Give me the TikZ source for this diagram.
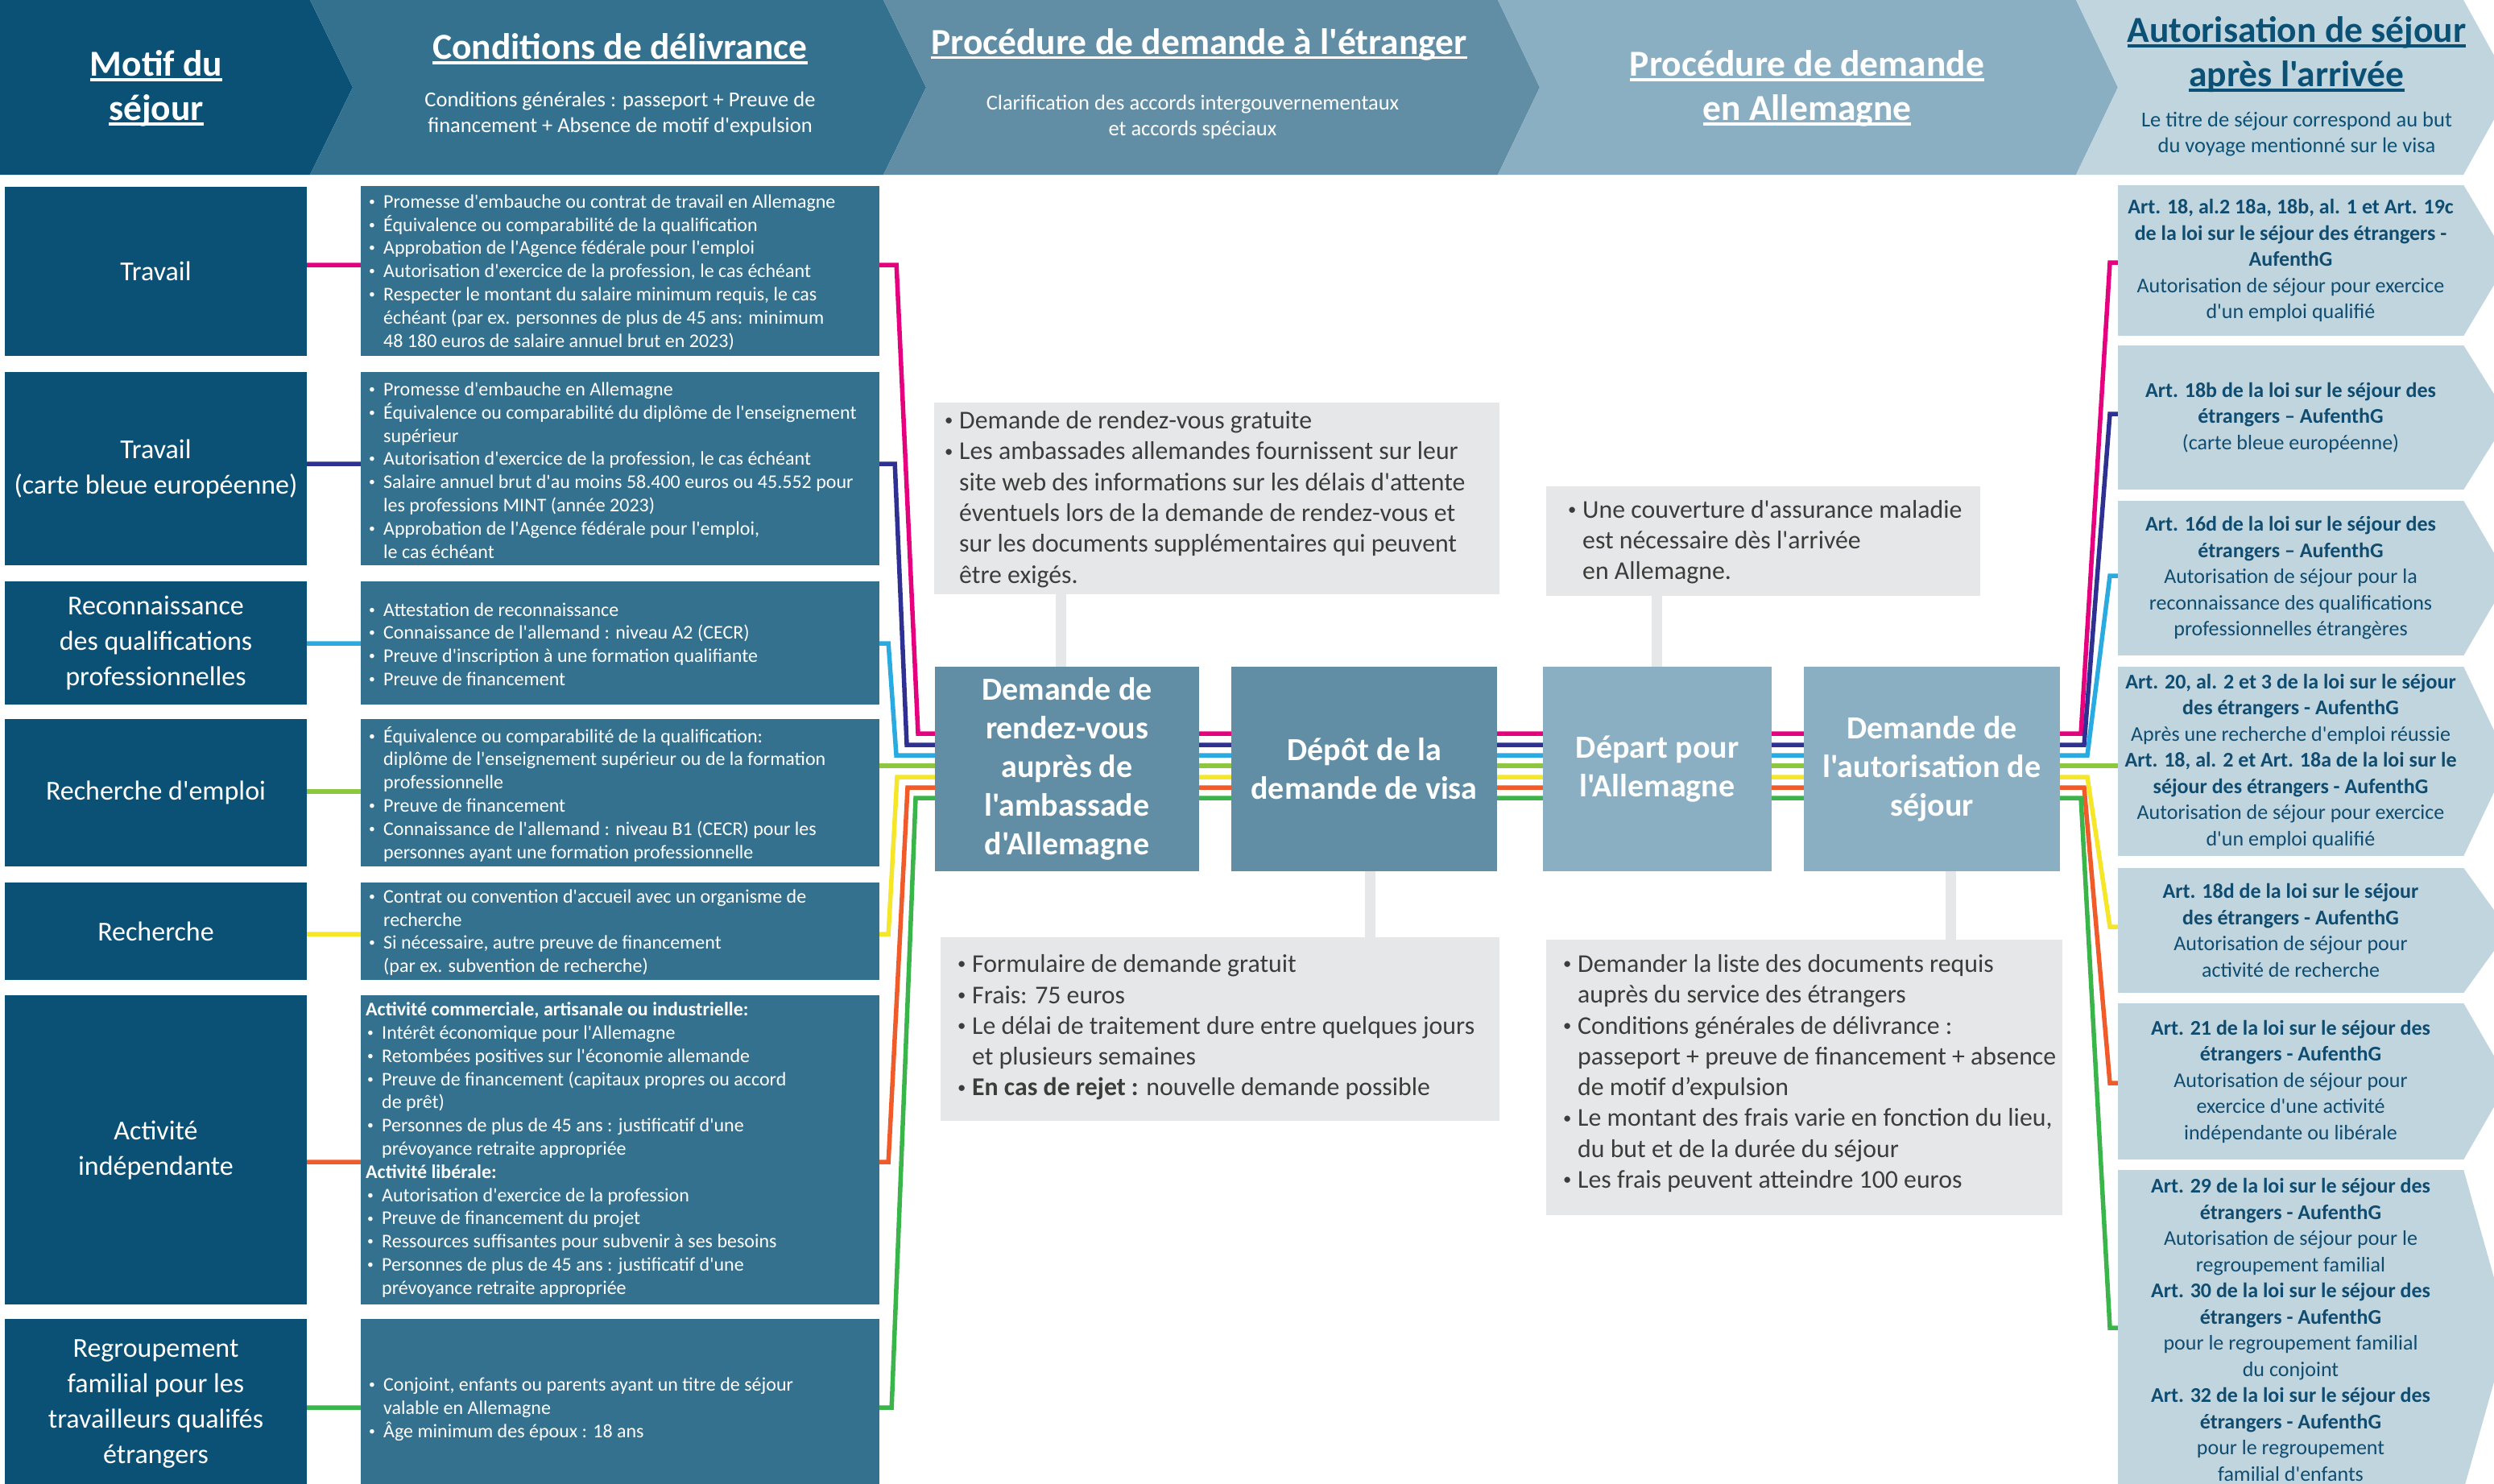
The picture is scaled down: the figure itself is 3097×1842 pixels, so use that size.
\documentclass[tikz,border=0pt]{standalone}
\usepackage{fontspec}
\setmainfont{Carlito}[Ligatures=TeXOff]
\newcommand{\myul}[1]{\leavevmode\setbox0\hbox{#1}\rlap{\rule[-6pt]{\wd0}{3.5pt}}\box0}
\definecolor{hdA}{RGB}{11,81,118}
\definecolor{hdB}{RGB}{51,113,143}
\definecolor{hdC}{RGB}{97,142,165}
\definecolor{hdD}{RGB}{139,175,194}
\definecolor{hdE}{RGB}{192,213,222}
\definecolor{greyfill}{RGB}{230,231,233}
\definecolor{greytxt}{RGB}{60,60,59}
\definecolor{rtext}{RGB}{15,76,112}
\definecolor{lnpink}{RGB}{230,0,126}
\definecolor{lnnavy}{RGB}{46,49,146}
\definecolor{lnlblue}{RGB}{41,171,226}
\definecolor{lnlime}{RGB}{141,198,63}
\definecolor{lnyellow}{RGB}{245,230,40}
\definecolor{lnorange}{RGB}{241,90,41}
\definecolor{lngreen}{RGB}{57,181,74}
\newcommand{\myb}{\makebox[20pt][l]{\hspace{2pt}\raisebox{0.12em}{\scalebox{0.65}{\textbullet}}}}
\newcommand{\myi}{\hspace*{20pt}}
\pgfdeclarelayer{paper}
\pgfdeclarelayer{bg}
\pgfsetlayers{paper,bg,main}
\tikzset{
  motifbox/.style={fill=hdA, text=white, inner sep=0pt, minimum width=375pt, align=center, font=\fontsize{34}{44}\selectfont},
  condbox/.style={fill=hdB, inner sep=0pt, minimum width=644pt},
  condtext/.style={anchor=west, text=white, align=left, inner sep=0pt, font=\fontsize{24}{28.8}\selectfont},
  rbox/.style={fill=hdE, text=rtext, inner sep=0pt, minimum width=429pt, align=center, font=\fontsize{26}{32.5}\selectfont},
  procA/.style={fill=hdC, text=white, inner sep=0pt, minimum height=254pt, align=center, font=\bfseries\fontsize{40}{48}\selectfont},
  procB/.style={procA, fill=hdD},
  greybox/.style={fill=greyfill, inner sep=0pt},
  greytext/.style={anchor=west, text=greytxt, align=left, inner sep=0pt, font=\fontsize{31.8}{38.3}\selectfont},
  greybar/.style={draw=greyfill, line width=13pt},
  route/.style={line width=5.5pt},
  hdtitle/.style={text=white, align=center, inner sep=0pt, font=\bfseries\fontsize{45.5}{55}\selectfont},
  hdsub/.style={text=white, align=center, inner sep=0pt, font=\fontsize{26.5}{32}\selectfont},
}
\begin{document}
\begin{tikzpicture}[x=1pt,y=-1pt]
\useasboundingbox (0,0) rectangle (3097,1842);
\begin{pgfonlayer}{paper}
\fill[white] (0,0) rectangle (3097,1842);
\end{pgfonlayer}
\clip (0,0) rectangle (3097,1842);

% ---------- header chevrons ----------
\fill[hdA] (0,0) -- (385,0) -- (438,108.5) -- (385,217) -- (0,217) -- cycle;
\fill[hdB] (385,0) -- (1097,0) -- (1150,108.5) -- (1097,217) -- (385,217) -- (438,108.5) -- cycle;
\fill[hdC] (1097,0) -- (1860,0) -- (1912,108.5) -- (1860,217) -- (1097,217) -- (1150,108.5) -- cycle;
\fill[hdD] (1860,0) -- (2578,0) -- (2630,108.5) -- (2578,217) -- (1860,217) -- (1912,108.5) -- cycle;
\fill[hdE] (2578,0) -- (3059,0) -- (3119,108.5) -- (3059,217) -- (2578,217) -- (2630,108.5) -- cycle;

\node[hdtitle] (t1) at (194,110) {\myul{Motif du}\\\myul{séjour}};
\node[hdtitle] (t2) at (770,61) {\myul{Conditions de délivrance}};
\node[hdsub] (s2) at (770,141) {Conditions générales : passeport + Preuve de\\financement + Absence de motif d'expulsion};
\node[hdtitle] (t3) at (1489,55) {\myul{Procédure de demande à l'étranger}};
\node[hdsub] (s3) at (1481,145) {Clarification des accords intergouvernementaux\\et accords spéciaux};
\node[hdtitle] (t4) at (2244,110) {\myul{Procédure de demande}\\\myul{en Allemagne}};
\node[hdtitle, text=hdA] (t5) at (2852,68) {\myul{Autorisation de séjour}\\\myul{après l'arrivée}};
\node[hdsub, text=hdA] (s5) at (2852,167) {Le titre de séjour correspond au but\\du voyage mentionné sur le visa};

% ---------- motif column ----------
\node[motifbox, minimum height=210pt] (m1) at (193.5,337) {Travail};
\node[motifbox, minimum height=240pt] (m2) at (193.5,582) {Travail\\(carte bleue européenne)};
\node[motifbox, minimum height=153pt] (m3) at (193.5,798.5) {Reconnaissance\\des qualifications\\professionnelles};
\node[motifbox, minimum height=183pt] (m4) at (193.5,984.5) {Recherche d'emploi};
\node[motifbox, minimum height=121pt] (m5) at (193.5,1156.5) {Recherche};
\node[motifbox, minimum height=384pt] (m6) at (193.5,1428) {Activité\\indépendante};
\node[motifbox, minimum height=210pt] (m7) at (193.5,1743) {Regroupement\\familial pour les\\travailleurs qualifés\\étrangers};

% ---------- conditions column ----------
\node[condbox, minimum height=211pt] (c1) at (770,336.5) {};
\node[condbox, minimum height=240pt] (c2) at (770,582) {};
\node[condbox, minimum height=153pt] (c3) at (770,798.5) {};
\node[condbox, minimum height=183pt] (c4) at (770,984.5) {};
\node[condbox, minimum height=121pt] (c5) at (770,1156.5) {};
\node[condbox, minimum height=384pt] (c6) at (770,1428) {};
\node[condbox, minimum height=212pt] (c7) at (770,1744) {};

\node[condtext] (tc1) at (456,338) {\myb Promesse d'embauche ou contrat de travail en Allemagne\\\myb Équivalence ou comparabilité de la qualification\\\myb Approbation de l'Agence fédérale pour l'emploi\\\myb Autorisation d'exercice de la profession, le cas échéant\\\myb Respecter le montant du salaire minimum requis, le cas\\\myi échéant (par ex. personnes de plus de 45 ans: minimum\\\myi 48 180 euros de salaire annuel brut en 2023)};
\node[condtext] (tc2) at (456,584) {\myb Promesse d'embauche en Allemagne\\\myb Équivalence ou comparabilité du diplôme de l'enseignement\\\myi supérieur\\\myb Autorisation d'exercice de la profession, le cas échéant\\\myb Salaire annuel brut d'au moins 58.400 euros ou 45.552 pour\\\myi les professions MINT (année 2023)\\\myb Approbation de l'Agence fédérale pour l'emploi,\\\myi le cas échéant};
\node[condtext] (tc3) at (456,800) {\myb Attestation de reconnaissance\\\myb Connaissance de l'allemand : niveau A2 (CECR)\\\myb Preuve d'inscription à une formation qualifiante\\\myb Preuve de financement};
\node[condtext] (tc4) at (456,986) {\myb Équivalence ou comparabilité de la qualification:\\\myi diplôme de l'enseignement supérieur ou de la formation\\\myi professionnelle\\\myb Preuve de financement\\\myb Connaissance de l'allemand : niveau B1 (CECR) pour les\\\myi personnes ayant une formation professionnelle};
\node[condtext] (tc5) at (456,1158) {\myb Contrat ou convention d'accueil avec un organisme de\\\myi recherche\\\myb Si nécessaire, autre preuve de financement\\\myi (par ex. subvention de recherche)};
\node[condtext] (tc6) at (454,1428) {\textbf{Activité commerciale, artisanale ou industrielle:}\\\myb Intérêt économique pour l'Allemagne\\\myb Retombées positives sur l'économie allemande\\\myb Preuve de financement (capitaux propres ou accord\\\myi de prêt)\\\myb Personnes de plus de 45 ans : justificatif d'une\\\myi prévoyance retraite appropriée\\\textbf{Activité libérale:}\\\myb Autorisation d'exercice de la profession\\\myb Preuve de financement du projet\\\myb Ressources suffisantes pour subvenir à ses besoins\\\myb Personnes de plus de 45 ans : justificatif d'une\\\myi prévoyance retraite appropriée};
\node[condtext] (tc7) at (456,1750) {\myb Conjoint, enfants ou parents ayant un titre de séjour\\\myi valable en Allemagne\\\myb Âge minimum des époux : 18 ans};

% ---------- process boxes ----------
\node[procA, minimum width=328pt] (dem) at (1325,955) {Demande de\\rendez-vous\\auprès de\\l'ambassade\\d'Allemagne};
\node[procA, minimum width=330pt] (dep) at (1694,955) {Dépôt de la\\demande de visa};
\node[procB, minimum width=284pt] (dpt) at (2058,955) {Départ pour\\l'Allemagne};
\node[procB, minimum width=318pt] (aut) at (2399,955) {Demande de\\l'autorisation de\\séjour};

% ---------- grey info boxes ----------
\node[greybox, minimum width=702pt, minimum height=238pt] (gA) at (1511,619) {};
\node[greybox, minimum width=539pt, minimum height=136pt] (gB) at (2189.5,672) {};
\node[greybox, minimum width=694pt, minimum height=228pt] (gC) at (1515,1278) {};
\node[greybox, minimum width=641pt, minimum height=342pt] (gD) at (2240.5,1338) {};

\node[greytext] (tA) at (1171,620) {\myb Demande de rendez-vous gratuite\\\myb Les ambassades allemandes fournissent sur leur\\\myi site web des informations sur les délais d'attente\\\myi éventuels lors de la demande de rendez-vous et\\\myi sur les documents supplémentaires qui peuvent\\\myi être exigés.};
\node[greytext] (tB) at (1945,673) {\myb Une couverture d'assurance maladie\\\myi est nécessaire dès l'arrivée\\\myi en Allemagne.};
\node[greytext] (tC) at (1187,1276) {\myb Formulaire de demande gratuit\\\myb Frais: 75 euros\\\myb Le délai de traitement dure entre quelques jours\\\myi et plusieurs semaines\\\myb \textbf{En cas de rejet :} nouvelle demande possible};
\node[greytext] (tD) at (1939,1333) {\myb Demander la liste des documents requis\\\myi auprès du service des étrangers\\\myb Conditions générales de délivrance :\\\myi passeport + preuve de financement + absence\\\myi de motif d’expulsion\\\myb Le montant des frais varie en fonction du lieu,\\\myi du but et de la durée du séjour\\\myb Les frais peuvent atteindre 100 euros};

% ---------- result column ----------
\node[rbox, minimum height=187pt] (r1) at (2844.5,323.5) {\textbf{Art. 18, al.2 18a, 18b, al. 1 et Art. 19c}\\\textbf{de la loi sur le séjour des étrangers -}\\\textbf{AufenthG}\\Autorisation de séjour pour exercice\\d'un emploi qualifié};
\node[rbox, minimum height=179pt] (r2) at (2844.5,518.5) {\textbf{Art. 18b de la loi sur le séjour des}\\\textbf{étrangers – AufenthG}\\(carte bleue européenne)};
\node[rbox, minimum height=192pt] (r3) at (2844.5,718) {\textbf{Art. 16d de la loi sur le séjour des}\\\textbf{étrangers – AufenthG}\\Autorisation de séjour pour la\\reconnaissance des qualifications\\professionnelles étrangères};
\node[rbox, minimum height=235pt] (r4) at (2844.5,945.5) {\textbf{Art. 20, al. 2 et 3 de la loi sur le séjour}\\\textbf{des étrangers - AufenthG}\\Après une recherche d'emploi réussie\\\textbf{Art. 18, al. 2 et Art. 18a de la loi sur le}\\\textbf{séjour des étrangers - AufenthG}\\Autorisation de séjour pour exercice\\d'un emploi qualifié};
\node[rbox, minimum height=155pt] (r5) at (2844.5,1155.5) {\textbf{Art. 18d de la loi sur le séjour}\\\textbf{des étrangers - AufenthG}\\Autorisation de séjour pour\\activité de recherche};
\node[rbox, minimum height=194pt] (r6) at (2844.5,1343) {\textbf{Art. 21 de la loi sur le séjour des}\\\textbf{étrangers - AufenthG}\\Autorisation de séjour pour\\exercice d'une activité\\indépendante ou libérale};
\node[rbox, minimum height=397pt] (r7) at (2844.5,1651.5) {\textbf{Art. 29 de la loi sur le séjour des}\\\textbf{étrangers - AufenthG}\\Autorisation de séjour pour le\\regroupement familial\\\textbf{Art. 30 de la loi sur le séjour des}\\\textbf{étrangers - AufenthG}\\pour le regroupement familial\\du conjoint\\\textbf{Art. 32 de la loi sur le séjour des}\\\textbf{étrangers - AufenthG}\\pour le regroupement\\familial d'enfants};
\foreach \r in {r1,r2,r3,r4,r5,r6,r7}{
  \fill[hdE] (\r.north east) -- ([xshift=56pt]\r.east) -- (\r.south east) -- cycle;
}

% ---------- coordinates for routes ----------
\coordinate (yL1) at (0,329);  \coordinate (yL2) at (0,576);
\coordinate (yL3) at (0,799);  \coordinate (yL4) at (0,983);
\coordinate (yL5) at (0,1160); \coordinate (yL6) at (0,1443);
\coordinate (yL7) at (0,1748);
\coordinate (yR1) at (0,911);  \coordinate (yR2) at (0,925);
\coordinate (yR3) at (0,938);  \coordinate (yR4) at (0,951);
\coordinate (yR5) at (0,965);  \coordinate (yR6) at (0,978);
\coordinate (yR7) at (0,991);
\coordinate (yA1) at (0,326);  \coordinate (yA2) at (0,514);
\coordinate (yA3) at (0,715);  \coordinate (yA5) at (0,1151);
\coordinate (yA6) at (0,1345); \coordinate (yA7) at (0,1649);
\coordinate (xA) at (1317,0); \coordinate (xB) at (2057,0);
\coordinate (xC) at (1701,0); \coordinate (xD) at (2422,0);

\begin{pgfonlayer}{bg}
\draw[greybar] (xA |- gA.south) -- (xA |- dem.north);
\draw[greybar] (xB |- gB.south) -- (xB |- dpt.north);
\draw[greybar] (xC |- dep.south) -- (xC |- gC.north);
\draw[greybar] (xD |- aut.south) -- (xD |- gD.north);

\draw[route,lnpink] (m1.east |- yL1) -- (c1.east |- yL1) -- ++(21,0) -- (1140,911) -- (aut.east |- yR1) -- (2584,911) -- (2620,326) -- (r1.west |- yA1);
\draw[route,lnnavy] (m2.east |- yL2) -- (c2.east |- yL2) -- ++(19,0) -- (1126,925) -- (aut.east |- yR2) -- (2588,925) -- (2620,514) -- (r2.west |- yA2);
\draw[route,lnlblue] (m3.east |- yL3) -- (c3.east |- yL3) -- ++(11,0) -- (1113,938) -- (aut.east |- yR3) -- (2592,938) -- (2620,715) -- (r3.west |- yA3);
\draw[route,lnlime] (m4.east |- yL4) -- (c4.west |- yL4) (c4.east |- yR4) -- (r4.west |- yR4);
\draw[route,lnyellow] (m5.east |- yL5) -- (c5.east |- yL5) -- ++(11,0) -- (1114,965) -- (aut.east |- yR5) -- (2592,965) -- (2620,1151) -- (r5.west |- yA5);
\draw[route,lnorange] (m6.east |- yL6) -- (c6.east |- yL6) -- ++(11,0) -- (1127,978) -- (aut.east |- yR6) -- (2588,978) -- (2620,1345) -- (r6.west |- yA6);
\draw[route,lngreen] (m7.east |- yL7) -- (c7.east |- yL7) -- ++(15,0) -- (1137,991) -- (aut.east |- yR7) -- (2584,991) -- (2620,1649) -- (r7.west |- yA7);
\end{pgfonlayer}
\end{tikzpicture}
\end{document}
